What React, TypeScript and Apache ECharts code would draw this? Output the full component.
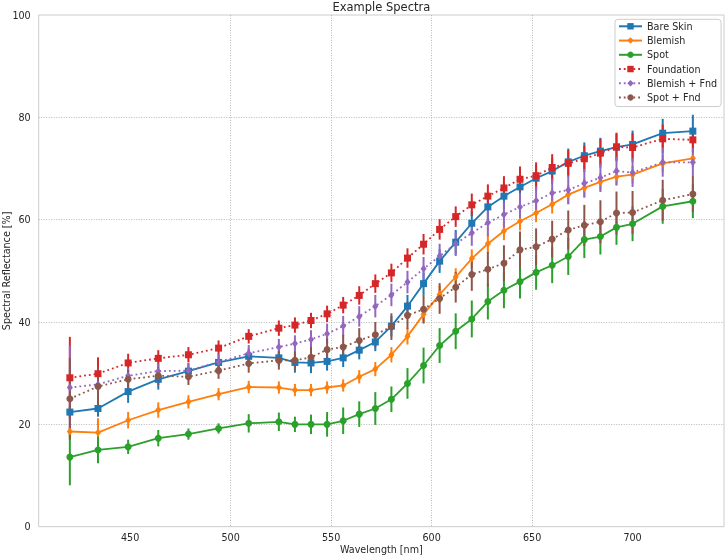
import React, { useEffect, useRef } from "react";
import * as echarts from "echarts";

const wavelengths = [420, 434, 449, 464, 479, 494, 509, 524, 532, 540, 548, 556, 564, 572, 580, 588, 596, 604, 612, 620, 628, 636, 644, 652, 660, 668, 676, 684, 692, 700, 715, 730];

const bareSkin = [22.4, 23.1, 26.4, 28.8, 30.4, 32.1, 33.3, 33.0, 32.1, 32.0, 32.3, 33.0, 34.5, 36.1, 39.2, 43.1, 47.5, 51.9, 55.6, 59.3, 62.5, 64.6, 66.4, 68.1, 69.5, 71.3, 72.5, 73.4, 74.2, 74.7, 76.9, 77.3];
const blemish = [18.6, 18.4, 20.8, 22.8, 24.4, 25.9, 27.3, 27.2, 26.7, 26.7, 27.2, 27.6, 29.3, 30.8, 33.6, 37.2, 41.5, 45.4, 48.8, 52.4, 55.3, 57.8, 59.7, 61.3, 63.0, 64.9, 66.2, 67.4, 68.4, 68.8, 71.0, 72.0];
const spot = [13.6, 15.0, 15.6, 17.3, 18.1, 19.2, 20.2, 20.5, 20.0, 20.0, 20.0, 20.7, 22.0, 23.1, 24.9, 28.0, 31.5, 35.4, 38.2, 40.6, 44.0, 46.2, 47.9, 49.7, 51.1, 52.8, 56.1, 56.7, 58.5, 59.2, 62.6, 63.6];
const foundation = [29.1, 29.9, 32.0, 32.9, 33.6, 34.9, 37.2, 38.8, 39.4, 40.3, 41.6, 43.3, 45.2, 47.5, 49.6, 52.5, 55.2, 58.1, 60.6, 62.9, 64.6, 66.2, 67.9, 68.6, 70.2, 71.0, 71.9, 73.0, 74.2, 74.1, 75.8, 75.6];
const blemishFnd = [27.2, 27.8, 29.5, 30.4, 30.5, 32.2, 33.9, 35.1, 35.8, 36.6, 37.7, 39.2, 41.1, 43.1, 45.3, 47.8, 50.4, 52.9, 55.3, 57.4, 59.4, 61.0, 62.5, 63.7, 65.2, 65.8, 67.1, 68.2, 69.5, 69.2, 71.2, 71.2];
const spotFnd = [25.0, 27.4, 28.8, 29.5, 29.3, 30.5, 31.9, 32.5, 32.5, 33.1, 34.6, 35.1, 36.4, 37.5, 39.1, 41.3, 42.5, 44.6, 46.8, 49.3, 50.3, 51.5, 54.1, 54.7, 56.2, 58.0, 58.9, 59.6, 61.3, 61.4, 63.8, 65.0];

const errBareSkin = [1.0, 1.6, 2.2, 2.0, 1.5, 1.3, 1.5, 1.6, 2.0, 2.0, 1.8, 1.8, 1.8, 1.8, 2.0, 2.2, 2.2, 2.3, 2.4, 2.4, 2.5, 2.5, 2.5, 2.5, 2.5, 2.6, 2.6, 2.6, 2.6, 2.7, 2.8, 3.2];
const errBlemish = [1.0, 2.8, 1.6, 1.5, 1.3, 1.2, 1.2, 1.2, 1.2, 1.2, 1.2, 1.2, 1.3, 1.4, 1.5, 1.6, 1.6, 1.7, 1.7, 1.8, 1.8, 1.8, 1.8, 1.8, 1.8, 1.8, 1.8, 1.7, 1.7, 1.7, 1.7, 1.7];
const errSpot = [5.5, 2.6, 1.4, 1.6, 1.1, 1.0, 1.8, 1.8, 1.5, 1.9, 2.4, 2.6, 2.5, 3.2, 2.5, 3.0, 3.5, 3.4, 3.5, 3.6, 3.5, 3.5, 3.3, 3.4, 3.5, 3.6, 3.6, 3.5, 3.4, 3.4, 3.4, 3.3];
const errFoundation = [8.0, 3.2, 1.8, 1.6, 1.5, 1.5, 1.4, 1.5, 1.5, 1.5, 1.6, 1.6, 1.8, 1.8, 1.8, 1.9, 2.0, 2.0, 2.0, 2.2, 2.3, 2.3, 2.5, 2.6, 2.6, 2.6, 2.6, 2.8, 2.8, 2.8, 2.8, 2.4];
const errBlemishFnd = [8.2, 2.0, 1.5, 1.5, 1.5, 1.5, 1.6, 1.6, 1.6, 1.8, 2.0, 2.0, 2.0, 2.2, 2.2, 2.2, 2.3, 2.4, 2.4, 2.5, 2.6, 2.6, 2.7, 2.8, 2.8, 2.8, 2.8, 2.8, 2.8, 2.8, 2.8, 2.8];
const errSpotFnd = [8.0, 3.8, 1.8, 1.8, 1.6, 1.6, 1.8, 1.8, 1.8, 2.0, 2.2, 2.4, 2.4, 2.5, 2.6, 2.7, 2.8, 3.0, 3.0, 3.2, 3.4, 3.5, 3.6, 3.6, 3.6, 3.8, 4.0, 4.2, 4.2, 4.2, 4.0, 3.5];

const xTicks = [450, 500, 550, 600, 650, 700];

const FONT = "DejaVu Sans";
const TEXT = "#262626";

type Spec = {
  name: string;
  values: number[];
  errs: number[];
  color: string;
  symbol: string;
  symbolSize: number | number[];
  dotted: boolean;
};

const specs: Spec[] = [
  { name: "Bare Skin", values: bareSkin, errs: errBareSkin, color: "#1f77b4", symbol: "rect", symbolSize: 7, dotted: false },
  { name: "Blemish", values: blemish, errs: errBlemish, color: "#ff7f0e", symbol: "diamond", symbolSize: [6, 8], dotted: false },
  { name: "Spot", values: spot, errs: errSpot, color: "#2ca02c", symbol: "circle", symbolSize: 7, dotted: false },
  { name: "Foundation", values: foundation, errs: errFoundation, color: "#d62728", symbol: "rect", symbolSize: 7, dotted: true },
  { name: "Blemish + Fnd", values: blemishFnd, errs: errBlemishFnd, color: "#9467bd", symbol: "diamond", symbolSize: [6, 8], dotted: true },
  { name: "Spot + Fnd", values: spotFnd, errs: errSpotFnd, color: "#8c564b", symbol: "circle", symbolSize: 7, dotted: true },
];

export default function App() {
  const ref = useRef<HTMLDivElement>(null);
  useEffect(() => {
    if (!ref.current) return;
    document.body.style.margin = "0";
    const chart = echarts.init(ref.current, null, { renderer: "svg" });
    const series: any[] = [];
    specs.forEach((s) => {
      series.push({
        type: "custom",
        name: s.name + " err",
        data: wavelengths.map((w, i) => [w, s.values[i] - s.errs[i], s.values[i] + s.errs[i]]),
        encode: { x: 0, y: [1, 2] },
        renderItem: (params: any, api: any) => {
          const x = api.value(0);
          const lo = api.coord([x, api.value(1)]);
          const hi = api.coord([x, api.value(2)]);
          return {
            type: "line",
            shape: { x1: lo[0], y1: lo[1], x2: hi[0], y2: hi[1] },
            style: { stroke: s.color, lineWidth: 2 },
          };
        },
        silent: true,
      });
      series.push({
        type: "line",
        name: s.name,
        data: wavelengths.map((w, i) => [w, s.values[i]]),
        symbol: s.symbol,
        symbolSize: s.symbolSize,
        showAllSymbol: true,
        itemStyle: { color: s.color },
        lineStyle: { color: s.color, width: 1.8, type: s.dotted ? [1.8, 3] : "solid", cap: "butt" },
        emphasis: { disabled: true },
      });
    });
    chart.setOption({
      animation: false,
      title: {
        text: "Example Spectra",
        left: 381.4,
        top: 0.5,
        textAlign: "center",
        padding: 0,
        textStyle: { fontFamily: FONT, fontSize: 11.5, fontWeight: "normal", color: TEXT },
      },
      legend: {
        data: specs.map((s) => s.name),
        orient: "vertical",
        left: 615,
        top: 19.3,
        itemWidth: 23,
        itemHeight: 8,
        itemGap: 4.25,
        padding: [2, 4, 4, 3],
        backgroundColor: "rgba(255,255,255,0.8)",
        borderColor: "#cccccc",
        borderWidth: 1,
        borderRadius: 3,
        selectedMode: false,
        textStyle: { fontFamily: FONT, fontSize: 9.6, color: TEXT },
      },
      grid: {
        left: 38.7,
        top: 15,
        right: 2,
        bottom: 29.3,
        containLabel: false,
        outerBoundsMode: "none",
        show: true,
        borderColor: "#cccccc",
        borderWidth: 1,
        backgroundColor: "transparent",
      },
      xAxis: {
        type: "value",
        min: 404.5,
        max: 745.5,
        name: "Wavelength [nm]",
        nameLocation: "middle",
        nameGap: 17.5,
        nameMoveOverlap: false,
        nameTextStyle: { fontFamily: FONT, fontSize: 9.6, color: TEXT },
        axisLine: { show: false },
        axisTick: { show: false, customValues: xTicks },
        axisLabel: { customValues: xTicks, fontFamily: FONT, fontSize: 9.6, color: TEXT, margin: 6 },
        splitLine: { show: true, showMinLine: false, showMaxLine: false, lineStyle: { color: "#b8b8b8", width: 1, type: [1, 1.5] } },
      },
      yAxis: {
        type: "value",
        min: 0,
        max: 100,
        interval: 20,
        name: "Spectral Reflectance [%]",
        nameLocation: "middle",
        nameGap: 27.3,
        nameMoveOverlap: false,
        nameTextStyle: { fontFamily: FONT, fontSize: 9.6, color: TEXT },
        axisLine: { show: false },
        axisTick: { show: false },
        axisLabel: { fontFamily: FONT, fontSize: 9.6, color: TEXT, margin: 8 },
        splitLine: { show: true, showMinLine: false, showMaxLine: false, lineStyle: { color: "#b8b8b8", width: 1, type: [1, 1.5] } },
      },
      series,
    });
    return () => chart.dispose();
  }, []);
  return <div ref={ref} style={{ position: "fixed", left: 0, top: 0, width: 726, height: 556 }} />;
}
